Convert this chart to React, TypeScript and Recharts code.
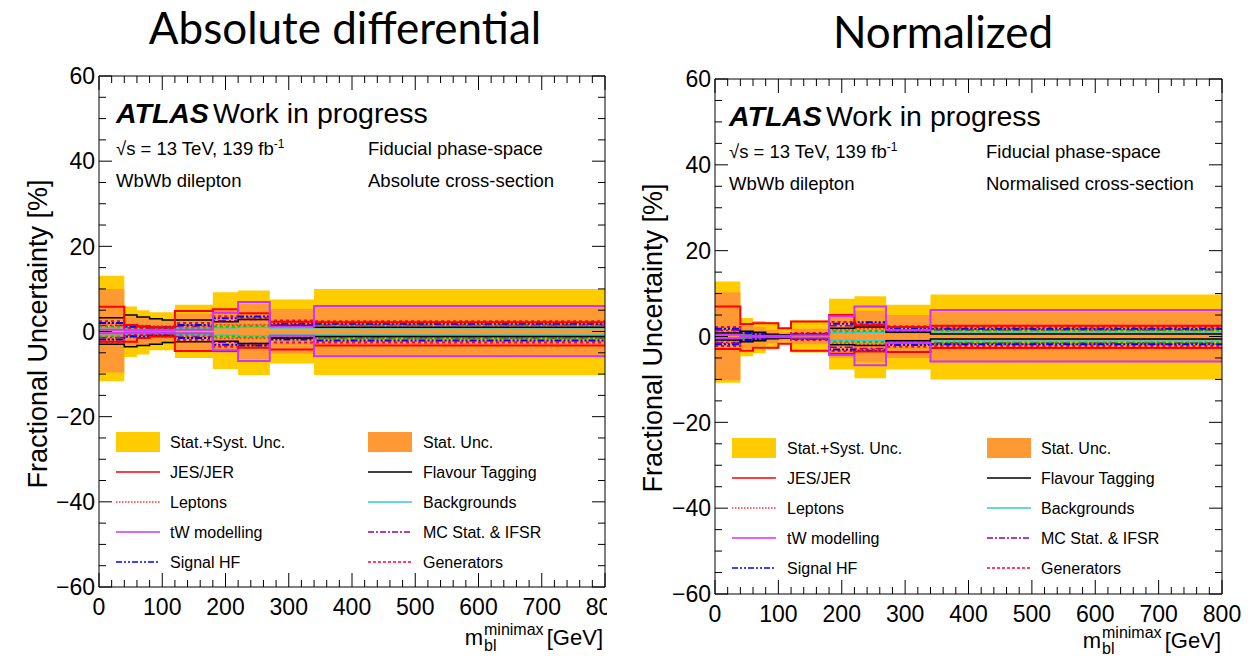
import React from 'react';
import { ComposedChart, Area, Line, XAxis, YAxis } from 'recharts';

const FONT = '"Liberation Sans", Arial, Helvetica, sans-serif';
const TITLE_FONT = 'Lato, "Liberation Sans", sans-serif';

// bin edges of m_bl^minimax [GeV]
const binEdges = [0, 40, 60, 80, 100, 120, 180, 220, 270, 340, 800];

const xTicks = [0, 20, 40, 60, 80, 100, 120, 140, 160, 180, 200, 220, 240, 260, 280, 300, 320, 340, 360, 380, 400, 420, 440, 460, 480, 500, 520, 540, 560, 580, 600, 620, 640, 660, 680, 700, 720, 740, 760, 780, 800];
const xTickLabels = [0, 100, 200, 300, 400, 500, 600, 700, 800];
const yTicks = [-60, -55, -50, -45, -40, -35, -30, -25, -20, -15, -10, -5, 0, 5, 10, 15, 20, 25, 30, 35, 40, 45, 50, 55, 60];
const yTickLabels = [-60, -40, -20, 0, 20, 40, 60];

// ---------- Absolute differential ----------
const absTotUp = [13.1, 5.9, 5.0, 4.5, 4.5, 6.3, 9.2, 9.6, 7.5, 10.0];
const absTotDn = [-11.7, -6.0, -5.4, -4.4, -4.4, -6.2, -8.8, -10.2, -7.5, -10.2];
const absStatUp = [10.0, 3.6, 3.3, 3.1, 2.9, 4.2, 5.2, 6.5, 5.3, 5.8];
const absStatDn = [-9.6, -3.6, -3.3, -3.1, -2.9, -4.3, -5.0, -6.5, -5.2, -5.8];
const absJesUp = [5.8, 1.5, 1.2, 1.0, 1.0, 4.8, 5.2, 4.3, 2.3, 2.2];
const absJesDn = [-2.4, -2.4, -1.5, -1.2, -1.2, -4.6, -4.6, -3.8, -4.2, -3.3];
const absFlavUp = [3.2, 3.85, 3.4, 3.0, 2.7, 2.7, 2.3, 2.8, 1.4, 1.0];
const absFlavDn = [-3.0, -3.6, -3.3, -3.0, -2.6, -2.4, -2.3, -2.8, -1.5, -1.2];
const absLepUp = [1.8, 1.4, 1.4, 1.3, 1.3, 1.4, 1.6, 1.6, 1.5, 1.4];
const absLepDn = [-1.8, -1.4, -1.4, -1.3, -1.3, -1.4, -1.6, -1.6, -1.5, -1.4];
const absBkgUp = [0.9, 0.7, 0.7, 0.7, 0.7, 0.8, 0.9, 1.0, 0.8, 0.8];
const absBkgDn = [-0.9, -0.7, -0.7, -0.7, -0.7, -0.8, -0.9, -1.0, -0.8, -0.8];
const absTwUp = [0.4, 0.3, 0.3, 0.3, 0.3, 0.4, 4.4, 6.9, 1.2, 6.0];
const absTwDn = [-0.4, -0.3, -0.3, -0.3, -0.3, -0.4, -4.4, -6.9, -1.0, -5.8];
const absMcUp = [1.4, 1.0, 0.9, 0.9, 0.9, 1.2, 2.5, 2.8, 1.6, 1.5];
const absMcDn = [-1.4, -1.0, -0.9, -0.9, -0.9, -1.2, -2.5, -2.8, -1.6, -1.5];
const absHfUp = [2.0, 1.2, 1.2, 1.0, 1.0, 1.5, 3.1, 3.5, 1.9, 1.8];
const absHfDn = [-1.9, -1.2, -1.2, -1.0, -1.0, -1.5, -3.1, -3.3, -1.9, -2.1];
const absGenUp = [2.4, 0.8, 0.8, 0.8, 0.8, 2.0, 3.6, 3.2, 2.6, 2.4];
const absGenDn = [-2.4, -0.8, -0.8, -0.8, -0.8, -2.0, -3.6, -3.2, -2.6, -2.6];
const absOthUp = [1.2, 0.8, 0.8, 0.6, 0.6, 0.9, 1.2, 1.3, 1.3, 1.4];
const absOthDn = [-1.2, -0.8, -0.8, -0.6, -0.6, -0.9, -1.2, -1.3, -1.3, -1.6];

// ---------- Normalized ----------
const normTotUp = [12.8, 4.3, 3.6, 3.3, 2.0, 3.7, 8.8, 9.4, 7.4, 9.8];
const normTotDn = [-10.8, -4.6, -3.9, -3.0, -1.8, -3.7, -7.7, -9.7, -7.7, -10.0];
const normStatUp = [10.3, 2.6, 2.2, 1.6, 1.0, 1.8, 5.2, 6.0, 5.0, 5.9];
const normStatDn = [-10.2, -2.8, -2.3, -1.6, -1.0, -1.8, -5.0, -6.0, -5.0, -5.7];
const normJesUp = [7.0, 2.9, 3.1, 3.1, 1.9, 3.5, 5.0, 2.6, 2.2, 2.5];
const normJesDn = [-2.9, -3.3, -2.6, -2.6, -1.7, -3.3, -4.0, -3.5, -3.6, -2.7];
const normFlavUp = [0.8, 1.2, 1.0, 0.5, 0.4, 0.4, 1.9, 2.2, 1.0, 0.6];
const normFlavDn = [-0.8, -1.2, -1.0, -0.5, -0.4, -0.4, -1.9, -2.1, -1.0, -0.6];
const normLepUp = [1.6, 0.8, 0.6, 0.4, 0.3, 0.5, 1.6, 1.8, 1.8, 1.8];
const normLepDn = [-1.6, -0.8, -0.6, -0.4, -0.3, -0.5, -1.6, -1.8, -1.8, -1.8];
const normBkgUp = [0.6, 0.4, 0.3, 0.2, 0.2, 0.3, 0.9, 1.0, 0.8, 0.8];
const normBkgDn = [-0.6, -0.4, -0.3, -0.2, -0.2, -0.3, -0.9, -1.0, -0.8, -0.8];
const normTwUp = [0.4, 0.2, 0.2, 0.2, 0.2, 0.3, 4.7, 7.0, 1.5, 6.2];
const normTwDn = [-0.4, -0.2, -0.2, -0.2, -0.2, -0.3, -4.3, -6.7, -1.5, -5.8];
const normMcUp = [1.4, 0.6, 0.5, 0.3, 0.3, 0.6, 2.5, 2.8, 1.6, 1.5];
const normMcDn = [-1.4, -0.6, -0.5, -0.3, -0.3, -0.6, -2.5, -2.8, -1.6, -1.5];
const normHfUp = [1.8, 0.8, 0.6, 0.3, 0.3, 0.5, 3.0, 3.3, 2.0, 1.8];
const normHfDn = [-1.8, -0.8, -0.6, -0.3, -0.3, -0.5, -3.0, -3.3, -2.0, -1.8];
const normGenUp = [2.2, 0.9, 0.7, 0.4, 0.3, 0.8, 3.4, 3.0, 2.4, 2.2];
const normGenDn = [-2.2, -0.9, -0.7, -0.4, -0.3, -0.8, -3.4, -3.0, -2.4, -2.2];
const normOthUp = [1.0, 0.5, 0.4, 0.2, 0.2, 0.4, 1.2, 1.3, 1.3, 1.4];
const normOthDn = [-1.0, -0.5, -0.4, -0.2, -0.2, -0.4, -1.2, -1.3, -1.3, -1.4];

type Style = { key: string; color: string; dash?: string; width: number };
// drawing order (bottom to top)
const lineStyles: Style[] = [
  { key: 'bkg', color: '#33cccc', width: 1.5 },
  { key: 'mc', color: '#990099', dash: '8 3 2 3', width: 1.5 },
  { key: 'oth', color: '#00cc00', dash: '3 3', width: 2 },
  { key: 'lep', color: '#ff3333', dash: '2 2', width: 1.5 },
  { key: 'gen', color: '#ff0033', dash: '3 3', width: 2 },
  { key: 'hf', color: '#0000ff', dash: '7 2 2 2 2 2', width: 2 },
  { key: 'flav', color: '#000000', width: 1.5 },
  { key: 'jes', color: '#ff0000', width: 2 },
  { key: 'tw', color: '#cc33ff', width: 2 },
];

function buildRows(series: Record<string, number[]>) {
  return binEdges.map((x, i) => {
    const j = Math.min(i, binEdges.length - 2);
    const row: Record<string, number> = { x };
    Object.keys(series).forEach((k) => {
      row[k] = series[k][j];
    });
    return row;
  });
}

const absRows = buildRows({
  totUp: absTotUp, totDn: absTotDn, statUp: absStatUp, statDn: absStatDn,
  jesUp: absJesUp, jesDn: absJesDn, flavUp: absFlavUp, flavDn: absFlavDn,
  lepUp: absLepUp, lepDn: absLepDn, bkgUp: absBkgUp, bkgDn: absBkgDn,
  twUp: absTwUp, twDn: absTwDn, mcUp: absMcUp, mcDn: absMcDn,
  hfUp: absHfUp, hfDn: absHfDn, genUp: absGenUp, genDn: absGenDn,
  othUp: absOthUp, othDn: absOthDn,
});
const normRows = buildRows({
  totUp: normTotUp, totDn: normTotDn, statUp: normStatUp, statDn: normStatDn,
  jesUp: normJesUp, jesDn: normJesDn, flavUp: normFlavUp, flavDn: normFlavDn,
  lepUp: normLepUp, lepDn: normLepDn, bkgUp: normBkgUp, bkgDn: normBkgDn,
  twUp: normTwUp, twDn: normTwDn, mcUp: normMcUp, mcDn: normMcDn,
  hfUp: normHfUp, hfDn: normHfDn, genUp: normGenUp, genDn: normGenDn,
  othUp: normOthUp, othDn: normOthDn,
});

const fmt = (v: number) => (v < 0 ? '\u2212' + Math.abs(v) : String(v));

const LeftTick = (p: any) => {
  const v = p.payload.value;
  const major = yTickLabels.includes(v);
  return (
    <g>
      <line x1={p.x} x2={p.x + (major ? 13 : 7)} y1={p.y} y2={p.y} stroke="#000" strokeWidth={1} />
      {major && (
        <text x={p.x - 4} y={p.y} dy="0.36em" textAnchor="end" fontSize={23} fontFamily={FONT} fill="#000">
          {fmt(v)}
        </text>
      )}
    </g>
  );
};
const RightTick = (p: any) => {
  const v = p.payload.value;
  const major = yTickLabels.includes(v);
  return <line x1={p.x} x2={p.x - (major ? 13 : 7)} y1={p.y} y2={p.y} stroke="#000" strokeWidth={1} />;
};
const BottomTick = (p: any) => {
  const v = p.payload.value;
  const major = xTickLabels.includes(v);
  return (
    <g>
      <line x1={p.x} x2={p.x} y1={p.y} y2={p.y - (major ? 14 : 7)} stroke="#000" strokeWidth={1} />
      {major && (
        <text x={p.x} y={p.y + 20} dy="0.36em" textAnchor="middle" fontSize={23} fontFamily={FONT} fill="#000">
          {v}
        </text>
      )}
    </g>
  );
};
const TopTick = (p: any) => {
  const v = p.payload.value;
  const major = xTickLabels.includes(v);
  return <line x1={p.x} x2={p.x} y1={p.y} y2={p.y + (major ? 14 : 7)} stroke="#000" strokeWidth={1} />;
};

type PanelProps = {
  rows: Record<string, number>[];
  left: number;
  width: number;
  clipWidth: number;
  margin: { top: number; right: number; bottom: number; left: number };
};

function Panel({ rows, left, width, clipWidth, margin }: PanelProps) {
  const axisLine = { stroke: '#000', strokeWidth: 1 };
  return (
    <div style={{ position: 'absolute', left, top: 0, width: clipWidth, height: 656, overflow: 'hidden' }}>
      <ComposedChart width={width} height={656} data={rows} margin={margin}>
        <XAxis dataKey="x" type="number" domain={[0, 800]} ticks={xTicks} interval={0} tickSize={0} tickMargin={0}
          tickLine={false} axisLine={axisLine} tick={(p: any) => <BottomTick {...p} />} height={1} allowDataOverflow />
        <XAxis xAxisId="top" orientation="top" dataKey="x" type="number" domain={[0, 800]} ticks={xTicks} interval={0}
          tickSize={0} tickMargin={0} tickLine={false} axisLine={axisLine} tick={(p: any) => <TopTick {...p} />} height={1} allowDataOverflow />
        <YAxis type="number" domain={[-60, 60]} ticks={yTicks} interval={0} tickSize={0} tickMargin={0}
          tickLine={false} axisLine={axisLine} tick={(p: any) => <LeftTick {...p} />} width={1} allowDataOverflow />
        <YAxis yAxisId="right" orientation="right" type="number" domain={[-60, 60]} ticks={yTicks} interval={0}
          tickSize={0} tickMargin={0} tickLine={false} axisLine={axisLine} tick={(p: any) => <RightTick {...p} />} width={1} allowDataOverflow />
        <Area dataKey={(d: any) => [d.totDn, d.totUp]} type="stepAfter" fill="#ffcc00" fillOpacity={1} stroke="none"
          isAnimationActive={false} dot={false} activeDot={false} />
        <Area dataKey={(d: any) => [d.statDn, d.statUp]} type="stepAfter" fill="#ff9933" fillOpacity={1} stroke="none"
          isAnimationActive={false} dot={false} activeDot={false} />
        {lineStyles.flatMap((s) =>
          ['Up', 'Dn'].map((side) => (
            <Line key={s.key + side} dataKey={s.key + side} type="stepAfter" stroke={s.color} strokeWidth={s.width}
              strokeDasharray={s.dash} dot={false} activeDot={false} isAnimationActive={false} />
          ))
        )}
      </ComposedChart>
    </div>
  );
}

type LegendItem = { label: string; kind: 'box' | 'line'; color: string; dash?: string; width?: number };
const legendCol1: LegendItem[] = [
  { label: 'Stat.+Syst. Unc.', kind: 'box', color: '#ffcc00' },
  { label: 'JES/JER', kind: 'line', color: '#ff0000', width: 1.5 },
  { label: 'Leptons', kind: 'line', color: '#ff3333', dash: '1.5 1.5', width: 1.5 },
  { label: 'tW modelling', kind: 'line', color: '#cc33ff', width: 1.5 },
  { label: 'Signal HF', kind: 'line', color: '#0000ff', dash: '6 2 2 2 2 2', width: 1.5 },
];
const legendCol2: LegendItem[] = [
  { label: 'Stat. Unc.', kind: 'box', color: '#ff9933' },
  { label: 'Flavour Tagging', kind: 'line', color: '#000000', width: 1.5 },
  { label: 'Backgrounds', kind: 'line', color: '#33cccc', width: 1.5 },
  { label: 'MC Stat. & IFSR', kind: 'line', color: '#990099', dash: '6 2 2 2', width: 1.5 },
  { label: 'Generators', kind: 'line', color: '#ff0033', dash: '3 2', width: 1.5 },
];

type Deco = {
  title: string; titleX: number; titleY: number;
  atlasX: number; atlasY: number; line2Y: number; line3Y: number; col2X: number; csText: string;
  legRows: number[]; sw1: number; tx1: number; sw2: number; tx2: number;
  yLabX: number; yLabY: number; xLabR: number; xLabB: number;
};

const decoLeft: Deco = {
  title: 'Absolute differential', titleX: 345, titleY: 44,
  atlasX: 116, atlasY: 123, line2Y: 155, line3Y: 187, col2X: 368, csText: 'Absolute cross-section',
  legRows: [442, 472, 502, 532, 562], sw1: 116, tx1: 170, sw2: 368, tx2: 423,
  yLabX: 47, yLabY: 334, xLabR: 603, xLabB: 645,
};
const decoRight: Deco = {
  title: 'Normalized', titleX: 943, titleY: 48,
  atlasX: 729, atlasY: 126, line2Y: 158, line3Y: 190, col2X: 986, csText: 'Normalised cross-section',
  legRows: [448, 478, 508, 538, 568], sw1: 732, tx1: 787, sw2: 987, tx2: 1041,
  yLabX: 662, yLabY: 338, xLabR: 1221, xLabB: 648,
};

function LegendEntry({ item, sw, tx, y }: { item: LegendItem; sw: number; tx: number; y: number }) {
  return (
    <g>
      {item.kind === 'box' ? (
        <rect x={sw} y={y - 10} width={44} height={20} fill={item.color} />
      ) : (
        <line x1={sw} x2={sw + 44} y1={y} y2={y} stroke={item.color} strokeWidth={item.width} strokeDasharray={item.dash} />
      )}
      <text x={tx} y={y} dy="0.36em" fontSize={16} fontFamily={FONT} fill="#000">{item.label}</text>
    </g>
  );
}

function Decorations({ d }: { d: Deco }) {
  return (
    <g>
      <text x={d.titleX} y={d.titleY} textAnchor="middle" fontSize={44} fontFamily={TITLE_FONT} fill="#000">{d.title}</text>
      <text x={d.atlasX} y={d.atlasY} fontSize={28.5} fontFamily={FONT} fill="#000">
        <tspan fontWeight="bold" fontStyle="italic">ATLAS</tspan>
        <tspan dx={4}>Work in progress</tspan>
      </text>
      <text x={d.atlasX} y={d.line2Y} fontSize={18.5} fontFamily={FONT} fill="#000">
        {'\u221As = 13 TeV, 139 fb'}
        <tspan dy={-7} fontSize={12}>-1</tspan>
      </text>
      <text x={d.col2X} y={d.line2Y} fontSize={18.5} fontFamily={FONT} fill="#000">Fiducial phase-space</text>
      <text x={d.atlasX} y={d.line3Y} fontSize={18.5} fontFamily={FONT} fill="#000">WbWb dilepton</text>
      <text x={d.col2X} y={d.line3Y} fontSize={18.5} fontFamily={FONT} fill="#000">{d.csText}</text>
      {legendCol1.map((it, i) => (
        <LegendEntry key={'a' + i} item={it} sw={d.sw1} tx={d.tx1} y={d.legRows[i]} />
      ))}
      {legendCol2.map((it, i) => (
        <LegendEntry key={'b' + i} item={it} sw={d.sw2} tx={d.tx2} y={d.legRows[i]} />
      ))}
      <text transform={`translate(${d.yLabX}, ${d.yLabY}) rotate(-90)`} textAnchor="middle" fontSize={27} fontFamily={FONT} fill="#000">
        Fractional Uncertainty [%]
      </text>
      <text x={d.xLabR} y={d.xLabB} textAnchor="end" fontSize={22} fontFamily={FONT} fill="#000">[GeV]</text>
      <text x={d.xLabR - 119} y={d.xLabB - 10} fontSize={16} fontFamily={FONT} fill="#000">minimax</text>
      <text x={d.xLabR - 119} y={d.xLabB + 6} fontSize={16} fontFamily={FONT} fill="#000">bl</text>
      <text x={d.xLabR - 120} y={d.xLabB} textAnchor="end" fontSize={22} fontFamily={FONT} fill="#000">m</text>
    </g>
  );
}

export default function App() {
  return (
    <div style={{ position: 'absolute', left: 0, top: 0, width: 1258, height: 656, background: '#fff', overflow: 'hidden' }}>
      <Panel rows={absRows} left={0} width={630} clipWidth={607}
        margin={{ top: 75, right: 24, bottom: 68, left: 98 }} />
      <Panel rows={normRows} left={620} width={638} clipWidth={638}
        margin={{ top: 78, right: 35, bottom: 61, left: 94 }} />
      <svg width={1258} height={656} style={{ position: 'absolute', left: 0, top: 0, pointerEvents: 'none' }}>
        <Decorations d={decoLeft} />
        <Decorations d={decoRight} />
      </svg>
    </div>
  );
}
